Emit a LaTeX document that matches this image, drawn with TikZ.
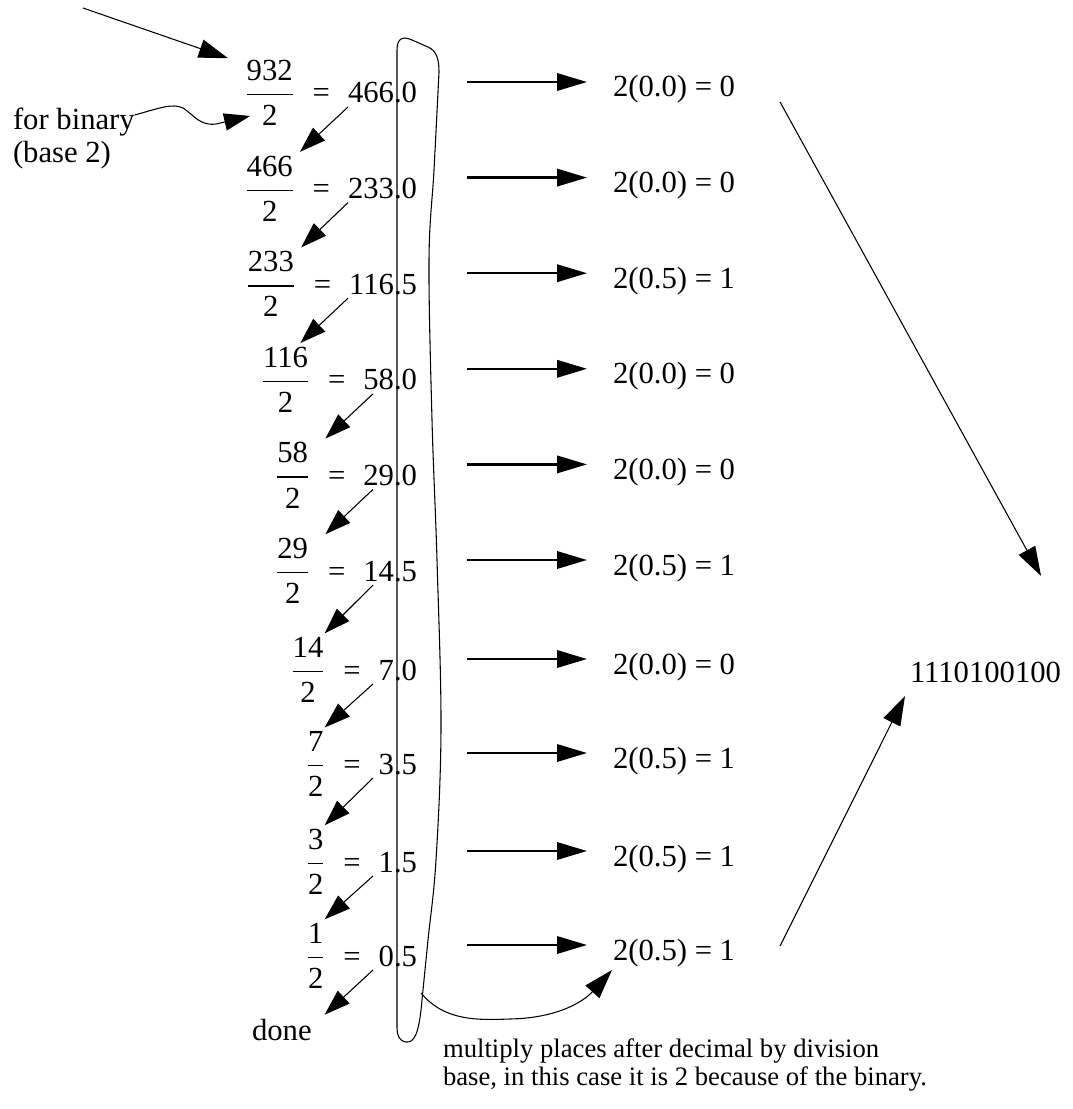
\documentclass[tikz,border=0pt]{standalone}
\usepackage{amsmath}
\usepackage{fontspec}
\setmainfont{Liberation Serif}
\usetikzlibrary{arrows.meta}
\begin{document}
\begin{tikzpicture}[x=0.75pt,y=-0.75pt,
  every node/.style={inner sep=0pt,outer sep=0pt,font=\fontsize{23}{27}\selectfont},
  ln/.style={line width=0.8pt},
  diag/.style={line width=0.8pt,-{Triangle[length=19.5pt,width=13pt]}},
  harrow/.style={line width=1.8pt,-{Triangle[length=22.5pt,width=13pt]}},
  bigarrow/.style={line width=0.8pt,-{Triangle[length=22pt,width=14pt]}},
  note/.style={font=\fontsize{20}{24}\selectfont}]
\useasboundingbox (0,0) rectangle (1072,1109);

\foreach \i/\y/\nm/\res/\txt in {
  1/82/932/466.0/{2(0.0) = 0},
  2/177.6/466/233.0/{2(0.0) = 0},
  3/273.2/233/116.5/{2(0.5) = 1},
  4/368.8/116/58.0/{2(0.0) = 0},
  5/464.4/58/29.0/{2(0.0) = 0},
  6/560/29/14.5/{2(0.5) = 1},
  7/659/14/7.0/{2(0.0) = 0},
  8/753/7/3.5/{2(0.5) = 1},
  9/851/3/1.5/{2(0.5) = 1},
  10/945/1/0.5/{2(0.5) = 1}}{
  \node[anchor=base east] (r\i) at (417,\y+21) {\res};
  \node[anchor=base east] (f\i) at ([shift={(-18,0)}]r\i.base west) {$\genfrac{}{}{1.1pt}{0}{\text{\nm}}{\text{2}}$\hspace{0.6em}=};
  \node[anchor=base west] (t\i) at (613,\y+15) {\txt};
  \draw[harrow] ([shift={(50,-21)}]r\i.base east) -- ([shift={(-26,-15)}]t\i.base west);
}

\foreach \i/\j/\sx/\tx in {1/2/-69/-30, 2/3/-69/-30, 3/4/-69/-45, 4/5/-44/-20, 5/6/-44/-20,
  6/7/-44/-36, 7/8/-44/-36, 8/9/-44/-36, 9/10/-44/-36}
  \draw[diag] ([shift={(\sx,4)}]r\i.base east) -- ([shift={(\tx,-4)}]f\j.north east);

\node[anchor=base west] (done) at (252,1040) {done};
\draw[diag] ([shift={(-44,4)}]r10.base east) -- ([shift={(13,-4)}]done.north east);

\node[anchor=base west] (b1) at (13,130) {for binary};
\node[anchor=base west] (b2) at (13,163) {(base 2)};
\draw[diag] ([shift={(0,-15)}]b1.base east) .. controls (160,108) and (172,103) .. (183,108)
  .. controls (195,116) and (200,126) .. (216,124) -- ([shift={(5,13)}]f1.base west);

\coordinate (topstart) at (83,8);
\draw[bigarrow] (topstart) -- ([shift={(-17,-2)}]f1.north west);

\node[anchor=base west] (ans) at (910,682) {1110100100};
\draw[bigarrow] ([shift={(45,5)}]t1.base east) -- ([shift={(-20,-106)}]ans.base east);
\draw[bigarrow] ([shift={(45,-14)}]t10.base east) -- ([shift={(-5,14)}]ans.base west);

\coordinate (loopexit) at (421,993);
\draw[ln] (397,1028) -- (397,50) .. controls (397,38) and (403,36) .. (412,40) -- (428,47)
  .. controls (437,51) and (439,60) .. (439,72)
  -- plot[smooth,tension=0.6] coordinates {(439,72) (434,170) (429,260) (432,420) (437,560) (441,727) (436,860) (428,940) (422,1000)}
  .. controls (419,1035) and (414,1043) .. (406,1042) .. controls (399,1041) and (397,1035) .. (397,1028) -- cycle;
\draw[bigarrow] (loopexit) .. controls (445,1022) and (480,1020) .. (510,1019)
  .. controls (560,1018) and (585,1000) .. ([shift={(-1,10)}]t10.base west);

\node[note,anchor=base west] (m1) at (443,1057) {multiply places after decimal by division};
\node[note,anchor=base west] (m2) at (443,1085) {base, in this case it is 2 because of the binary.};
\end{tikzpicture}
\end{document}
